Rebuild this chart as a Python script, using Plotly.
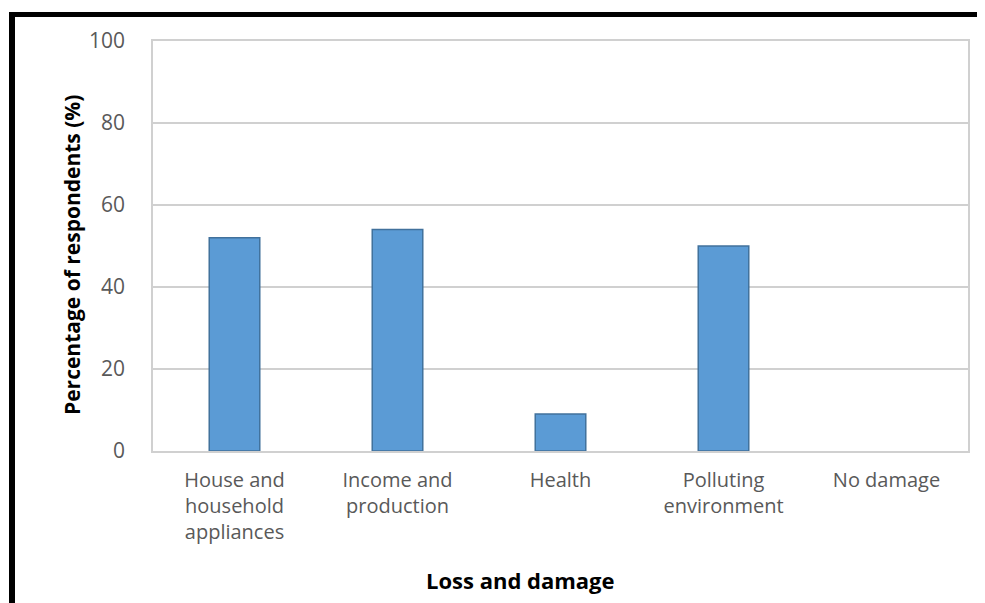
import plotly.graph_objects as go

categories = ["House and<br>household<br>appliances", "Income and<br>production", "Health",
              "Polluting<br>environment", "No damage"]
values = [52, 54, 9, 50, 0]
y_ticks = [0, 20, 40, 60, 80, 100]

# the page places the figure 8px from the top-left corner
OFF = 8
W, H = 985 - OFF, 603 - OFF
L, R, T, B = 153 - OFF, 968 - OFF, 41 - OFF, 451 - OFF
pw, ph = R - L, B - T

def px(x):
    return (x - OFF - L) / pw

def py(y):
    return (B - (y - OFF)) / ph

fig = go.Figure(go.Bar(
    x=categories, y=values,
    marker=dict(color="#5B9BD5",
                line=dict(color="#41719C", width=[1.5 if v > 0 else 0 for v in values])),
    width=0.31,
))

font_family = "Open Sans, Liberation Sans, sans-serif"

fig.update_layout(
    width=W, height=H,
    margin=dict(l=L, r=W - R, t=T, b=H - B),
    paper_bgcolor="white", plot_bgcolor="white",
    showlegend=False,
    font=dict(family=font_family, color="#595959"),
    xaxis=dict(
        showline=True, linecolor="#d0d0d0", linewidth=1.5, mirror=True,
        tickfont=dict(size=20, color="#595959"),
        ticks="outside", ticklen=10, tickcolor="rgba(0,0,0,0)",
        showgrid=False,
    ),
    yaxis=dict(
        range=[0, 100], tickvals=y_ticks,
        showline=True, linecolor="#d0d0d0", linewidth=1.5, mirror=True,
        gridcolor="#d0d0d0", gridwidth=1.5,
        tickfont=dict(size=21, color="#595959"),
        ticks="outside", ticklen=22, tickcolor="rgba(0,0,0,0)",
        zeroline=False,
    ),
    annotations=[
        dict(text="<b>Loss and damage</b>", xref="paper", yref="paper",
             x=px(520), y=py(580), xanchor="center", yanchor="middle", showarrow=False,
             font=dict(size=22, color="black", family=font_family)),
        dict(text="<b>Percentage of respondents (%)</b>", xref="paper", yref="paper",
             x=px(72), y=py(255), xanchor="center", yanchor="middle",
             showarrow=False, textangle=-90,
             font=dict(size=21, color="black", family=font_family)),
    ],
    shapes=[
        dict(type="rect", xref="paper", yref="paper", layer="above",
             x0=px(9), x1=px(15), y0=py(620), y1=py(12),
             fillcolor="black", line=dict(width=0)),
        dict(type="rect", xref="paper", yref="paper", layer="above",
             x0=px(9), x1=px(1000), y0=py(17), y1=py(12),
             fillcolor="black", line=dict(width=0)),
    ],
)

fig.write_html("out.html")
